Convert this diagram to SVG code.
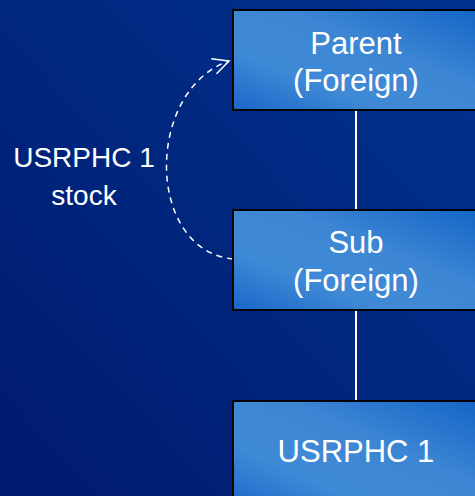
<svg xmlns="http://www.w3.org/2000/svg" width="475" height="496" viewBox="0 0 475 496">
<defs>
<linearGradient id="bg" x1="1" y1="0" x2="0" y2="1">
<stop offset="0" stop-color="#00338f"/>
<stop offset="1" stop-color="#001a6e"/>
</linearGradient>
<linearGradient id="box" x1="0" y1="1" x2="1" y2="0">
<stop offset="0" stop-color="#1a66c8"/>
<stop offset="0.3" stop-color="#3f8ad6"/>
<stop offset="0.6" stop-color="#3d86d4"/>
<stop offset="1" stop-color="#1264c6"/>
</linearGradient>
<marker id="arr" viewBox="0 0 20 20" refX="18" refY="10" markerWidth="20" markerHeight="20" markerUnits="userSpaceOnUse" orient="auto">
<path d="M2 2 L18 10 L2 18" fill="none" stroke="#fff" stroke-width="1.5"/>
</marker>
<style>
.node rect{fill:url(#box);stroke:#000;stroke-width:2}
.t{font-family:"Liberation Sans",Arial,sans-serif;fill:#fff;text-anchor:middle}
.n{font-size:31px}
.l{font-size:28px}
.conn line{stroke:#fff;stroke-width:2}
.dash{fill:none;stroke:#fff;stroke-width:1.5;stroke-dasharray:6 5}
</style>
</defs>
<rect width="475" height="496" fill="url(#bg)"/>
<g id="connectors" class="conn">
<line x1="356" y1="110" x2="356" y2="210"/>
<line x1="356" y1="310" x2="356" y2="401"/>
<path class="dash" d="M233 259 C145 250 145 90 229 61" marker-end="url(#arr)"/>
</g>
<g id="parent" class="node">
<rect x="233" y="10" width="250" height="100"/>
<text class="t n" x="356" y="54">Parent</text>
<text class="t n" x="356" y="91">(Foreign)</text>
</g>
<g id="sub" class="node">
<rect x="233" y="210" width="250" height="100"/>
<text class="t n" x="356" y="253">Sub</text>
<text class="t n" x="356" y="291">(Foreign)</text>
</g>
<g id="usrphc" class="node">
<rect x="233" y="401" width="250" height="110"/>
<text class="t n" x="356" y="462">USRPHC 1</text>
</g>
<g id="label">
<text class="t l" x="84" y="167">USRPHC 1</text>
<text class="t l" x="84" y="205">stock</text>
</g>
</svg>
